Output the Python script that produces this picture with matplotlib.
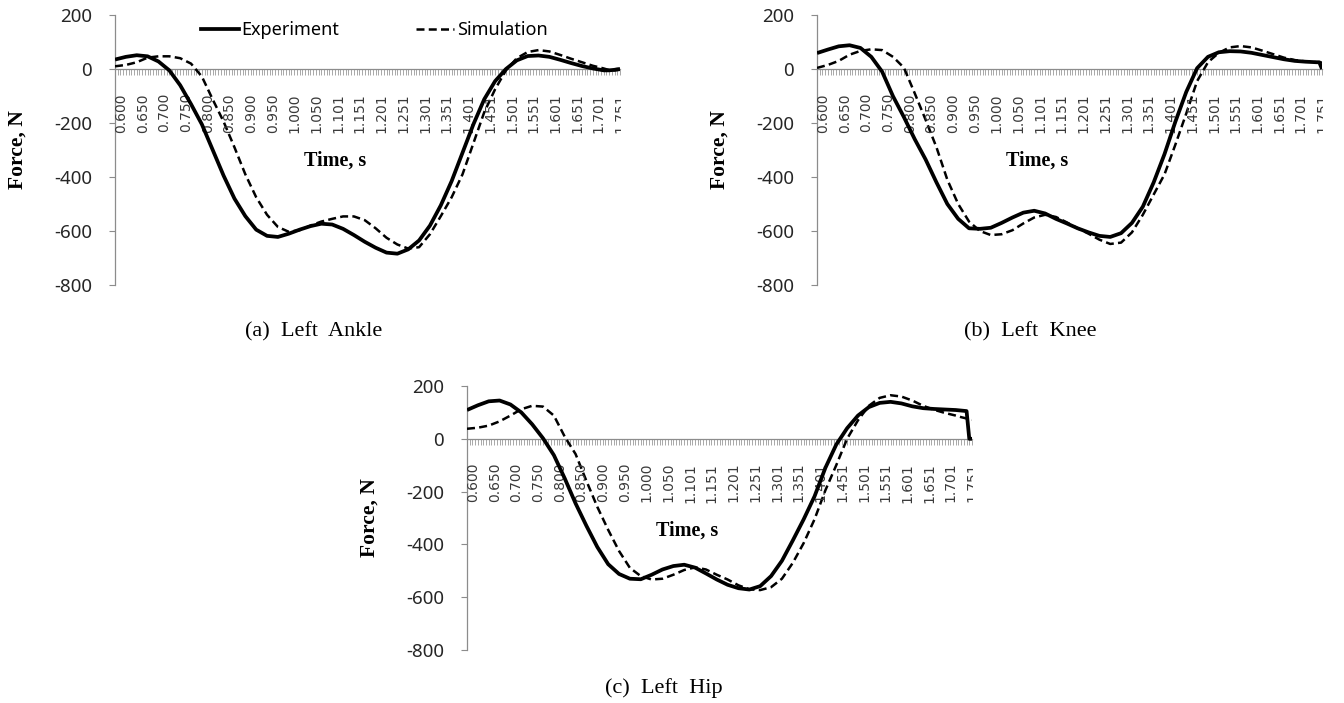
import matplotlib
matplotlib.use("Agg")
import matplotlib.pyplot as plt
from matplotlib.lines import Line2D
from matplotlib.transforms import ScaledTranslation, Bbox, TransformedBbox

W, H, DPI = 1344, 703, 100

# Category axis: one category per sample, a label every 8 categories
time_labels = ["0.600", "0.650", "0.700", "0.750", "0.800", "0.850", "0.900", "0.950",
               "1.000", "1.050", "1.101", "1.151", "1.201", "1.251", "1.301", "1.351",
               "1.401", "1.451", "1.501", "1.551", "1.601", "1.651", "1.701", "1.751"]
n_categories = 187
label_every = 8

# Category positions of the tabulated force samples
sample_cat = [0, 4, 8, 12, 16, 20, 24, 28, 32, 36, 40, 44, 48, 52, 56, 60, 64, 68, 72, 76,
              80, 84, 88, 92, 96, 100, 104, 108, 112, 116, 120, 124, 128, 132, 136, 140,
              144, 148, 152, 156, 160, 164, 168, 172, 176, 180, 182, 184, 185, 186]

# Joint reaction forces, N
ankle_exp = [35, 45, 51, 47, 28, -5, -60, -130, -205, -300, -395, -480, -545, -595, -618,
             -622, -610, -595, -582, -573, -576, -592, -615, -640, -662, -680, -684, -668,
             -635, -580, -505, -415, -310, -205, -112, -45, 0, 32, 48, 50, 45, 34, 22, 11,
             2, -5, -5, -3, -1, 0]
ankle_sim = [10, 15, 25, 42, 47, 47, 40, 20, -28, -113, -195, -290, -390, -475, -540,
             -585, -603, -597, -580, -565, -555, -546, -546, -560, -590, -625, -650, -665,
             -660, -612, -545, -475, -390, -275, -160, -75, -5, 40, 63, 70, 65, 52, 38, 25,
             12, 2, -4, -5, -4, -3]
knee_exp = [59, 72, 84, 88, 78, 45, -10, -101, -178, -260, -335, -420, -500, -555, -590,
            -592, -588, -570, -550, -532, -525, -535, -555, -572, -590, -605, -618, -622,
            -608, -570, -510, -420, -315, -195, -85, 3, 45, 62, 66, 65, 60, 52, 44, 36,
            30, 27, 26, 25, 25, 0]
knee_sim = [4, 15, 30, 53, 67, 73, 70, 45, 5, -90, -188, -290, -410, -500, -565, -600,
            -615, -612, -597, -572, -550, -540, -548, -568, -590, -610, -632, -648, -643,
            -605, -540, -465, -390, -280, -165, -45, 25, 60, 80, 85, 80, 68, 55, 42, 33,
            28, 27, 25, 24, 24]
hip_exp = [109, 127, 142, 145, 130, 100, 55, 2, -62, -150, -245, -330, -410, -475, -512,
           -530, -532, -515, -495, -482, -477, -488, -510, -533, -553, -566, -571, -558,
           -520, -462, -385, -305, -218, -110, -22, 40, 88, 120, 136, 140, 134, 123, 116,
           113, 111, 109, 107, 105, 0, 0]
hip_sim = [38, 42, 50, 66, 88, 112, 125, 122, 88, 8, -58, -160, -258, -345, -425, -489,
           -520, -533, -530, -515, -497, -487, -495, -515, -533, -555, -570, -573, -562,
           -530, -470, -395, -305, -195, -100, 0, 70, 125, 155, 165, 160, 145, 125, 110,
           98, 88, 82, 77, 74, 72]

y_ticks = [-800, -600, -400, -200, 0, 200]
captions = ["(a)  Left  Ankle", "(b)  Left  Knee", "(c)  Left  Hip"]

GRAY = "#8c8c8c"
SERIF = "Liberation Serif"
SANS = "Noto Sans"
DASH = (0, (3.2, 1.7))

fig = plt.figure(figsize=(W / DPI, H / DPI), dpi=DPI)
fig.patch.set_facecolor("white")

# panel frames in pixels: left, top, width, height, caption centre
frames = [
    (115, 15, 505, 270, (314, 332)),
    (817, 15, 505, 270, (1030, 332)),
    (467, 386, 505, 264, (664, 688)),
]
series = [(ankle_exp, ankle_sim), (knee_exp, knee_sim), (hip_exp, hip_sim)]

axes = []
for (left, top, width, height, cap), (exp, sim), caption in zip(frames, series, captions):
    ax = fig.add_axes([left / W, 1 - (top + height) / H, width / W, height / H])
    ax.patch.set_alpha(0)
    ax.set_xlim(0, n_categories - 1)
    ax.set_ylim(-800, 200)

    ax.plot(sample_cat, exp, color="black", lw=2.7, solid_joinstyle="round",
            solid_capstyle="butt", zorder=4)
    ax.plot(sample_cat, sim, color="black", lw=1.8, linestyle=DASH,
            dash_capstyle="butt", dash_joinstyle="round", zorder=3)

    for s in ("top", "right"):
        ax.spines[s].set_visible(False)
    ax.spines["left"].set_color(GRAY)
    ax.spines["left"].set_linewidth(0.9)
    ax.spines["bottom"].set_position(("data", 0))
    ax.spines["bottom"].set_color(GRAY)
    ax.spines["bottom"].set_linewidth(0.9)

    ax.set_yticks(y_ticks)
    ax.set_yticklabels([str(v) for v in y_ticks], family=SANS, fontsize=13.5,
                       color="#262626")
    ax.tick_params(axis="y", direction="out", length=4.5, width=0.8, color=GRAY, pad=12)

    ax.set_xticks(range(n_categories))
    ax.set_xticklabels([])
    ax.tick_params(axis="x", direction="out", length=4.5, width=0.6, color="#9a9a9a")

    # time labels on the category axis, clipped at the end of the axis
    clip = TransformedBbox(Bbox.from_extents(0, 0, (left + width + 1) / W, 1),
                           fig.transFigure)
    offset = ScaledTranslation(6 / DPI, -24 / DPI, fig.dpi_scale_trans)
    for k, lab in enumerate(time_labels):
        t = ax.text(k * label_every, 0, lab, rotation=90, ha="center", va="top",
                    fontsize=10, family="DejaVu Sans", color="#3a3a3a",
                    transform=ax.transData + offset)
        t.set_clip_box(clip)
        t.set_clip_on(True)

    zero_px = top + height * 200 / 1000
    fig.text((left + 220) / W, 1 - (zero_px + 92) / H, "Time, s", ha="center",
             va="center", family=SERIF, weight="bold", fontsize=14.5)
    fig.text((left - 97) / W, 1 - (top + height / 2) / H, "Force, N", rotation=90,
             ha="center", va="center", family=SERIF, weight="bold", fontsize=15.5)
    fig.text(cap[0] / W, 1 - cap[1] / H, caption, ha="center", va="center",
             family=SERIF, fontsize=16)
    axes.append(ax)

handles = [Line2D([], [], color="black", lw=2.7),
           Line2D([], [], color="black", lw=1.8, linestyle=DASH)]
axes[0].legend(handles, ["Experiment", "Simulation"], ncol=2, frameon=False,
               loc="center left", bbox_to_anchor=(201 / W, 1 - 30 / H),
               bbox_transform=fig.transFigure, borderaxespad=0, borderpad=0,
               handlelength=2.1, handletextpad=0.15, columnspacing=4.25,
               prop={"family": SANS, "size": 13})

fig.savefig("out.png", dpi=DPI, facecolor="white")
